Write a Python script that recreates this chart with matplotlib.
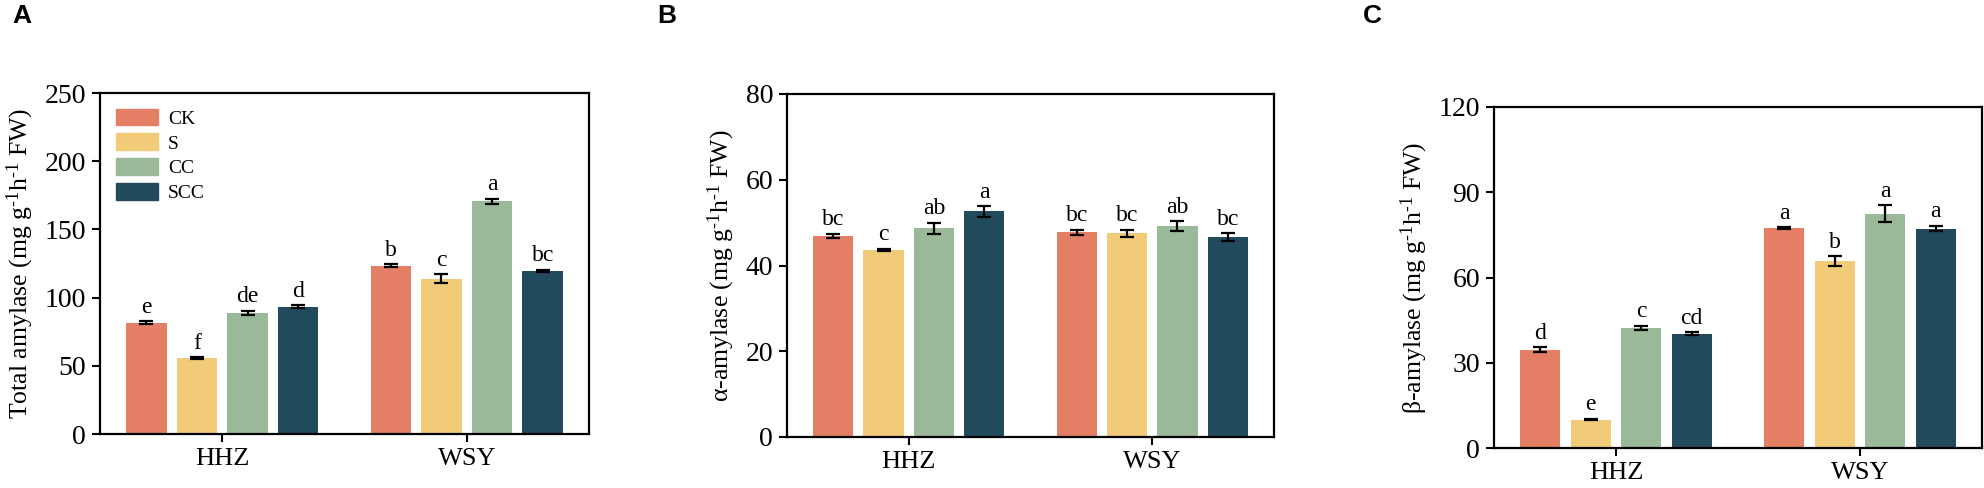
import numpy as np
from matplotlib import pyplot as plt
from matplotlib.patches import Patch

plt.rcParams["font.family"] = ["Liberation Serif", "DejaVu Serif"]
plt.rcParams["mathtext.fontset"] = "custom"
plt.rcParams["mathtext.rm"] = "Liberation Serif"
plt.rcParams["mathtext.default"] = "regular"

sites = ["HHZ", "WSY"]
treatments = ["CK", "S", "CC", "SCC"]
colors = ["#E47F66", "#F1CB78", "#9AB998", "#214A5C"]

# values per treatment: [HHZ, WSY]
total_mean = [[81.7, 123.3], [55.5, 114.0], [89.0, 170.5], [93.4, 119.8]]
total_err = [[1.0, 1.0], [0.6, 3.0], [1.5, 2.0], [0.9, 0.8]]
total_sig = [["e", "b"], ["f", "c"], ["de", "a"], ["d", "bc"]]

alpha_mean = [[46.9, 47.7], [43.6, 47.5], [48.7, 49.2], [52.6, 46.6]]
alpha_err = [[0.5, 0.6], [0.3, 0.8], [1.3, 1.1], [1.2, 0.9]]
alpha_sig = [["bc", "bc"], ["c", "bc"], ["ab", "ab"], ["a", "bc"]]

beta_mean = [[34.6, 77.3], [10.0, 65.7], [42.2, 82.5], [40.2, 77.2]]
beta_err = [[0.8, 0.4], [0.3, 1.8], [0.8, 3.0], [0.5, 1.0]]
beta_sig = [["d", "a"], ["e", "b"], ["c", "a"], ["cd", "a"]]

unit = r" (mg g$^{\text{-}1}$h$^{\text{-}1}$ FW)"
panels = [
    ("A", total_mean, total_err, total_sig, "Total amylase" + unit, 250, 50,
     [100, 488 - 434, 489, 341]),
    ("B", alpha_mean, alpha_err, alpha_sig, "\u03b1-amylase" + unit, 80, 20,
     [787, 488 - 437, 487, 343]),
    ("C", beta_mean, beta_err, beta_sig, "\u03b2-amylase" + unit, 120, 30,
     [1494, 488 - 448, 488, 341]),
]
letter_x = [12, 657, 1363]

W, H = 1984, 488
fig = plt.figure(figsize=(W / 100, H / 100), dpi=100)

bar_width = 0.165
step = 0.207
x = np.arange(len(sites))

for p, (tag, means, errs, sigs, ylabel, ymax, ystep, box) in enumerate(panels):
    l, b, w, h = box
    ax = fig.add_axes([l / W, b / H, w / W, h / H])
    for i, trt in enumerate(treatments):
        pos = x + (i - 1.5) * step
        ax.bar(pos, means[i], bar_width, color=colors[i], label=trt, zorder=2)
        ax.errorbar(pos, means[i], yerr=errs[i], fmt="none", ecolor="black",
                    elinewidth=1.6, capsize=5, capthick=1.6, zorder=3)
        for j in range(len(sites)):
            ax.annotate(sigs[i][j], (pos[j], means[i][j] + errs[i][j]),
                        xytext=(0, 2.5), textcoords="offset points",
                        ha="center", va="bottom", fontsize=17)
    ax.set_xlim(-0.5, 1.5)
    ax.set_ylim(0, ymax)
    ax.set_yticks(np.arange(0, ymax + 1, ystep))
    ax.set_xticks(x)
    ax.set_xticklabels(sites)
    ax.set_ylabel(ylabel, fontsize=18.5, labelpad=6)
    ax.tick_params(direction="out", length=6, width=1.5, pad=4)
    ax.tick_params(axis="y", labelsize=20)
    ax.tick_params(axis="x", labelsize=19)
    for s in ax.spines.values():
        s.set_linewidth(1.6)
    fig.text(letter_x[p] / W, 1 - 4 / H, tag, fontsize=19, fontweight="bold",
             family="Liberation Sans", ha="left", va="top")
    if tag == "A":
        handles = [Patch(color=c) for c in colors]
        ax.legend(handles, treatments, loc="upper left", frameon=False,
                  fontsize=14, handlelength=2.2, handleheight=0.95,
                  labelspacing=0.3, handletextpad=0.5,
                  borderaxespad=0.4, borderpad=0.4)

fig.savefig("out.png", dpi=100)
